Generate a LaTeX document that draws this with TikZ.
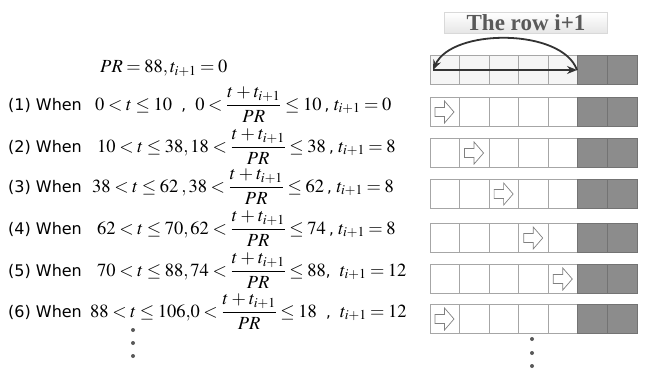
\documentclass[tikz,border=0pt]{standalone}
\usepackage{amsmath}
\usepackage{mathptmx}
\usepackage{fontspec}
\setmainfont{Liberation Serif}
\newfontfamily\whenfont{DejaVu Sans}
\usetikzlibrary{arrows.meta}
\newcommand{\scomma}{{\whenfont\fontsize{15}{18}\selectfont ,}}
\thickmuskip=3.5mu
\medmuskip=3mu
\definecolor{cellline}{HTML}{A6A6A6}
\definecolor{darkcell}{HTML}{8C8C8C}
\definecolor{titlegray}{HTML}{595959}
\tikzset{
  cl/.style={draw=cellline, fill=white, line width=0.8pt},
  cl0/.style={draw=cellline, fill=black!4, line width=0.8pt},
  dk/.style={draw=black!55, fill=darkcell, line width=0.8pt},
  whenlbl/.style={font=\whenfont\fontsize{16}{19}\selectfont, inner sep=0pt, anchor=base west},
  eq/.style={font=\fontsize{18.5}{22}\selectfont, inner sep=0pt, anchor=base west},
  ttl/.style={font=\fontsize{23}{26}\selectfont\bfseries, text=titlegray, minimum width=163pt,
    minimum height=21pt, inner sep=0pt, top color=white, bottom color=black!10, draw=black!15},
  ra/.style={draw=black!80, line width=1.8pt, -{Stealth[length=10pt,width=8pt]}},
  dt/.style={circle, fill=black!65, inner sep=0pt, minimum size=4pt},
  cellarrow/.pic={
    \draw[draw=black!50, fill=white, line width=0.7pt]
      (-9,-4.5) -- (0.5,-4.5) -- (0.5,-11) -- (10,0) -- (0.5,11) -- (0.5,4.5) -- (-9,4.5) -- cycle;
  }
}

\begin{document}
\begin{tikzpicture}[x=1pt, y=-1pt]
  \useasboundingbox (0,0) rectangle (645,369);

  % Title of the row
  \node[ttl] (title) at (526,23) {The row i+1};

  % Rows of cells (row / top / cell with arrow)
  \foreach \r/\y/\a in {0/55/-1, 1/97/0, 2/138/1, 3/179/2, 4/223/3, 5/264/4, 6/304/0} {
    \foreach \c in {0,...,4} {
      \ifnum\r=0
        \draw[cl0] (430+\c*29.57,\y) rectangle ++(29.57,29);
      \else
        \draw[cl] (430+\c*29.57,\y) rectangle ++(29.57,29);
      \fi
    }
    \foreach \c in {5,6}
      \draw[dk] (430+\c*29.57,\y) rectangle ++(29.57,29);
    \ifnum\a>-1
      \pic (arr\r) at (430+\a*29.57+14,\y+15) {cellarrow};
    \fi
  }

  % Arrows in the first row
  \coordinate (sl) at (433,70);
  \coordinate (sr) at (577,70);
  \draw[ra] (sl) -- (sr);
  \draw[ra] (sr) .. controls (562,28) and (452,28) .. (sl);

  % Conditions
  \node[eq] (pr) at (100,73) {$PR = 88, t_{i+1} = 0$};

  \node[whenlbl] (w1) at (8,110) {(1) When};
  \node[eq] (e1) at (95,110) {$0<t\le 10$\ \ \scomma\ \ $0<\dfrac{t+t_{i+1}}{PR}\le 10$\,\scomma\ $t_{i+1}=0$};

  \node[whenlbl] (w2) at (8,152) {(2) When};
  \node[eq] (e2) at (97,152) {$10<t\le 38,18<\dfrac{t+t_{i+1}}{PR}\le 38$\,\scomma\ $t_{i+1}=8$};

  \node[whenlbl] (w3) at (8,192) {(3) When};
  \node[eq] (e3) at (92,192) {$38<t\le 62$\,$,38<\dfrac{t+t_{i+1}}{PR}\le 62$\,\scomma\ $t_{i+1}=8$};

  \node[whenlbl] (w4) at (8,234) {(4) When};
  \node[eq] (e4) at (97,234) {$62<t\le 70,62<\dfrac{t+t_{i+1}}{PR}\le 74$\,\scomma\ $t_{i+1}=8$};

  \node[whenlbl] (w5) at (8,276) {(5) When};
  \node[eq] (e5) at (97,276) {$70<t\le 88,74<\dfrac{t+t_{i+1}}{PR}\le 88$\scomma\ \ $t_{i+1}=12$};

  \node[whenlbl] (w6) at (8,317) {(6) When};
  \node[eq] (e6) at (90,317) {$88<t\le 106{,}0<\dfrac{t+t_{i+1}}{PR}\le 18$\ \ \scomma\ \ $t_{i+1}=12$};

  % Dots
  \node[dt] (ld1) at (133,330) {};
  \node[dt] (ld2) at (133,343) {};
  \node[dt] (ld3) at (133,356) {};
  \node[dt] (rd1) at (532,339) {};
  \node[dt] (rd2) at (532,353) {};
  \node[dt] (rd3) at (532,366) {};
\end{tikzpicture}
\end{document}
